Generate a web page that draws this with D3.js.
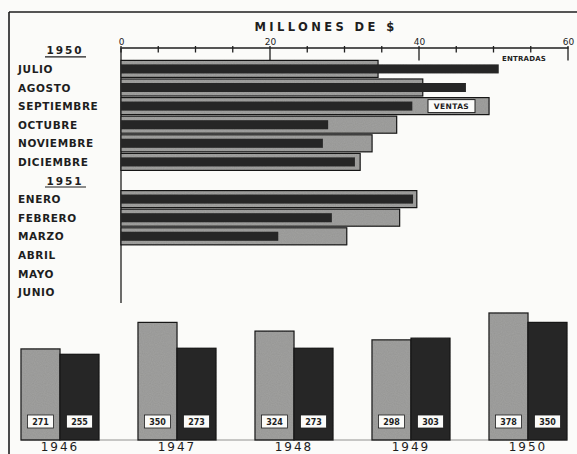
<!DOCTYPE html>
<html>
<head>
<meta charset="utf-8">
<script src="https://cdn.jsdelivr.net/npm/d3@7/dist/d3.min.js"></script>
<style>
  html, body { margin: 0; padding: 0; background: #fbfbf9; }
  svg { display: block; }
  text { font-family: "DejaVu Sans", "Liberation Sans", sans-serif; font-weight: bold; fill: #1e1e1e; }
</style>
</head>
<body>
<script>
// ---- data ----
const months1950 = ["JULIO", "AGOSTO", "SEPTIEMBRE", "OCTUBRE", "NOVIEMBRE", "DICIEMBRE"];
const months1951 = ["ENERO", "FEBRERO", "MARZO", "ABRIL", "MAYO", "JUNIO"];
const ventas1950 = [34.5, 40.5, 49.4, 37.0, 33.7, 32.1];
const entradas1950 = [50.7, 46.3, 39.1, 27.8, 27.1, 31.4];
const ventas1951 = [39.7, 37.4, 30.3, null, null, null];
const entradas1951 = [39.2, 28.3, 21.1, null, null, null];
const xTicks = [0, 20, 40, 60];
const years = ["1946", "1947", "1948", "1949", "1950"];
const ventasAnual = [271, 350, 324, 298, 378];
const entradasAnual = [255, 273, 273, 303, 350];

const W = 577, H = 454;
const GRAY = "#a3a3a1", DARK = "#2c2c2c", INK = "#1e1e1e";

const svg = d3.select("body").append("svg").attr("width", W).attr("height", H);

// frame
svg.append("line").attr("x1", 9).attr("x2", W).attr("y1", 12).attr("y2", 12)
  .attr("stroke", INK).attr("stroke-width", 1.6);
svg.append("line").attr("x1", 9).attr("x2", 9).attr("y1", 12).attr("y2", H)
  .attr("stroke", INK).attr("stroke-width", 1.6);

// ---- monthly horizontal bars ----
const slots = ["H1950", ...months1950, "H1951", ...months1951];
const y = d3.scaleBand().domain(slots).range([41, 41 + slots.length * 18.6]).padding(0);
const x = d3.scaleLinear().domain([0, 60]).range([121, 568]);

const rows = [
  ...months1950.map((m, i) => ({ m, v: ventas1950[i], e: entradas1950[i] })),
  ...months1951.map((m, i) => ({ m, v: ventas1951[i], e: entradas1951[i] }))
];

// title
svg.append("text").attr("x", 326).attr("y", 31).attr("text-anchor", "middle")
  .style("font-size", "11.5px").style("letter-spacing", "3.4px").text("MILLONES DE $");

// axis
const axisY = 47.5;
const axis = d3.axisTop(x).tickValues(xTicks).tickSize(0).tickFormat(d3.format("d"));
const ag = svg.append("g").attr("transform", `translate(0,${axisY})`).call(axis);
ag.select(".domain").attr("stroke", INK).attr("stroke-width", 1.4);
ag.selectAll("text").attr("dy", "0em").style("font-size", "9px")
  .style("font-family", "'DejaVu Sans', sans-serif").style("font-weight", "normal").attr("fill", INK);
// minor and major ticks drawn downward
const allTicks = d3.range(0, 61, 5);
svg.append("g").selectAll("line").data(allTicks).join("line")
  .attr("x1", d => x(d)).attr("x2", d => x(d))
  .attr("y1", axisY - 1.5)
  .attr("y2", d => (d % 20 === 0 && d > 0) ? axisY + 13 : axisY + 5)
  .attr("stroke", INK).attr("stroke-width", 1.3);

// vertical zero line
svg.append("line").attr("x1", x(0)).attr("x2", x(0)).attr("y1", axisY).attr("y2", 303)
  .attr("stroke", INK).attr("stroke-width", 1.3);

// noise pattern for texture
const defs = svg.append("defs");
const f = defs.append("filter").attr("id", "grain");
f.append("feTurbulence").attr("type", "fractalNoise").attr("baseFrequency", 0.9).attr("numOctaves", 1).attr("seed", 3).attr("result", "n");
f.append("feColorMatrix").attr("in", "n").attr("type", "matrix")
  .attr("values", "0 0 0 0 0  0 0 0 0 0  0 0 0 0 0  0 0 0 0.18 0").attr("result", "a");
f.append("feComposite").attr("in", "a").attr("in2", "SourceGraphic").attr("operator", "in").attr("result", "b");
f.append("feMerge").call(m => { m.append("feMergeNode").attr("in", "SourceGraphic"); m.append("feMergeNode").attr("in", "b"); });

const bh = y.bandwidth();
const barRows = rows.filter(r => r.v != null);
const hg = svg.append("g");
hg.selectAll("rect.v").data(barRows).join("rect").attr("class", "v")
  .attr("x", x(0)).attr("y", d => y(d.m) + 0.8)
  .attr("width", d => x(d.v) - x(0)).attr("height", bh - 1.6)
  .attr("fill", GRAY).attr("stroke", INK).attr("stroke-width", 1.2).attr("filter", "url(#grain)");
hg.selectAll("rect.e").data(barRows).join("rect").attr("class", "e")
  .attr("x", x(0)).attr("y", d => y(d.m) + bh / 2 - 4.5)
  .attr("width", d => x(d.e) - x(0)).attr("height", 9)
  .attr("fill", DARK).attr("filter", "url(#grain)");

// month labels
svg.append("g").selectAll("text").data(rows).join("text")
  .attr("x", 18).attr("y", d => y(d.m) + bh / 2 + 4)
  .style("font-size", "10.5px").style("letter-spacing", "0.6px").text(d => d.m);

// year headers
[["H1950", "1950"], ["H1951", "1951"]].forEach(([k, t]) => {
  const cy = y(k) + bh / 2 + 4;
  svg.append("text").attr("x", 65).attr("y", cy).attr("text-anchor", "middle")
    .style("font-size", "10.5px").style("letter-spacing", "2px").text(t);
  svg.append("line").attr("x1", 45).attr("x2", 86).attr("y1", cy + 2.5).attr("y2", cy + 2.5)
    .attr("stroke", INK).attr("stroke-width", 1.2);
});

// legend labels
svg.append("text").attr("x", 502).attr("y", y("JULIO") + bh / 2 - 8)
  .style("font-size", "7px").style("letter-spacing", "0.2px").text("ENTRADAS");
const sy = y("SEPTIEMBRE") + bh / 2;
svg.append("rect").attr("x", 428).attr("y", sy - 6.5).attr("width", 47).attr("height", 13)
  .attr("fill", "#fbfbf9").attr("stroke", INK).attr("stroke-width", 1);
svg.append("text").attr("x", 451.5).attr("y", sy + 3).attr("text-anchor", "middle")
  .style("font-size", "7.5px").style("letter-spacing", "0.4px").text("VENTAS");

// ---- annual grouped bars ----
const bx = d3.scaleBand().domain(years).range([21, 567]).paddingInner(1 / 3).paddingOuter(0);
const sub = d3.scaleBand().domain(["v", "e"]).range([0, bx.bandwidth()]);
const by = d3.scaleLinear().domain([0, 378]).range([440, 313]);

const annual = years.map((yr, i) => ({ yr, v: ventasAnual[i], e: entradasAnual[i] }));
const gg = svg.append("g").selectAll("g").data(annual).join("g")
  .attr("transform", d => `translate(${bx(d.yr)},0)`);

gg.append("rect").attr("x", sub("v")).attr("y", d => by(d.v))
  .attr("width", sub.bandwidth()).attr("height", d => by(0) - by(d.v))
  .attr("fill", GRAY).attr("stroke", INK).attr("stroke-width", 1.2).attr("filter", "url(#grain)");
gg.append("rect").attr("x", sub("e")).attr("y", d => by(d.e))
  .attr("width", sub.bandwidth()).attr("height", d => by(0) - by(d.e))
  .attr("fill", DARK).attr("stroke", INK).attr("stroke-width", 1.2).attr("filter", "url(#grain)");

// value boxes
["v", "e"].forEach(k => {
  const lab = gg.append("g").attr("transform", `translate(${sub(k) + sub.bandwidth() / 2},421.5)`);
  lab.append("rect").attr("x", -13).attr("y", -6.5).attr("width", 26).attr("height", 13)
    .attr("fill", "#fbfbf9").attr("stroke", INK).attr("stroke-width", 0.8);
  lab.append("text").attr("y", 3).attr("text-anchor", "middle")
    .style("font-size", "8px").text(d => d[k]);
});

// baseline
svg.append("line").attr("x1", 21).attr("x2", 567).attr("y1", by(0)).attr("y2", by(0))
  .attr("stroke", INK).attr("stroke-width", 0.8).attr("opacity", 0.6);

// year labels
svg.append("g").selectAll("text").data(years).join("text")
  .attr("x", d => bx(d) + bx.bandwidth() / 2).attr("y", 451).attr("text-anchor", "middle")
  .style("font-size", "12px").style("font-weight", "normal").style("letter-spacing", "2px")
  .text(d => d);
</script>
</body>
</html>
